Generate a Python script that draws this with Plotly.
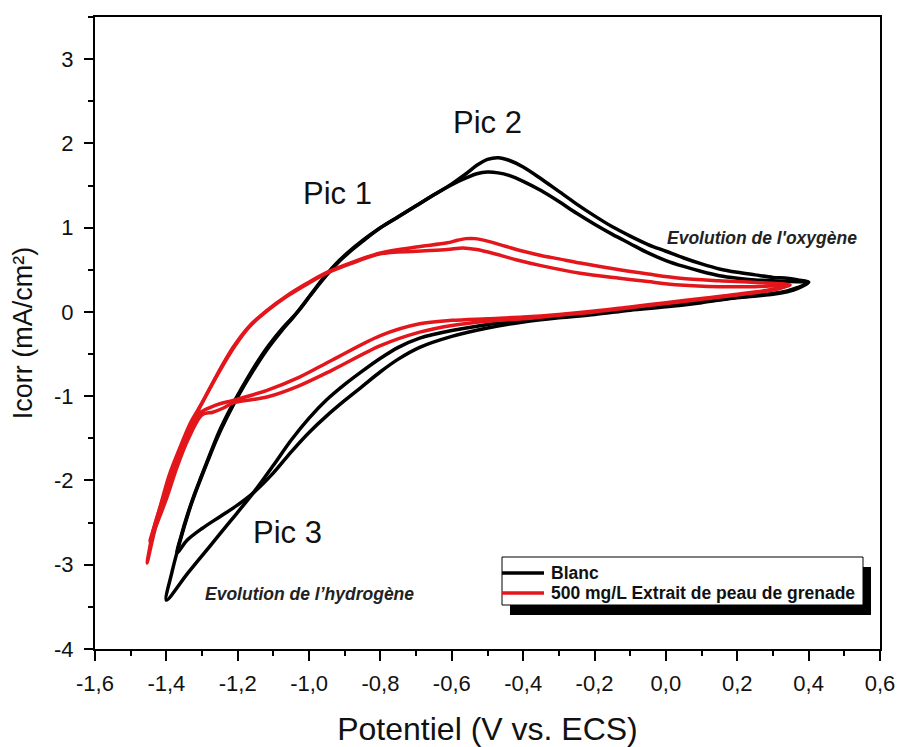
import plotly.graph_objects as go

# ---------------- data: cyclic voltammograms (two cycles per solution) ----------------
# Blank solution, cycle 1 (anodic sweep then cathodic sweep)
blanc_c1_anod_E = [-1.400, -1.385, -1.370, -1.350, -1.330, -1.310, -1.285, -1.260, -1.230, -1.195,
                   -1.160, -1.120, -1.080, -1.040, -1.000, -0.960, -0.925, -0.890, -0.850, -0.800,
                   -0.750, -0.700, -0.650, -0.600, -0.560, -0.530, -0.500, -0.470, -0.440, -0.400,
                   -0.350, -0.300, -0.250, -0.200, -0.150, -0.100, -0.050, 0.000, 0.050, 0.100,
                   0.150, 0.200, 0.250, 0.300, 0.340, 0.370, 0.400]
blanc_c1_anod_I = [-3.42, -3.10, -2.85, -2.55, -2.28, -2.05, -1.78, -1.52, -1.25, -0.97,
                   -0.72, -0.46, -0.24, -0.04, 0.18, 0.40, 0.57, 0.71, 0.85, 1.00,
                   1.13, 1.26, 1.39, 1.52, 1.64, 1.74, 1.81, 1.83, 1.80, 1.72,
                   1.58, 1.43, 1.28, 1.14, 1.01, 0.90, 0.80, 0.72, 0.64, 0.57,
                   0.51, 0.47, 0.44, 0.41, 0.40, 0.38, 0.355]
blanc_c1_cath_E = [0.370, 0.340, 0.300, 0.200, 0.100, 0.000, -0.100, -0.200, -0.300, -0.400,
                   -0.500, -0.600, -0.690, -0.750, -0.800, -0.850, -0.900, -0.950, -1.000, -1.050,
                   -1.100, -1.157, -1.220, -1.280, -1.340, -1.400]
blanc_c1_cath_I = [0.28, 0.24, 0.21, 0.17, 0.12, 0.07, 0.03, -0.01, -0.05, -0.09,
                   -0.15, -0.22, -0.31, -0.42, -0.55, -0.70, -0.86, -1.04, -1.26, -1.52,
                   -1.82, -2.15, -2.48, -2.79, -3.10, -3.42]

# Blank solution, cycle 2
blanc_c2_anod_E = [-1.370, -1.358, -1.342, -1.322, -1.302, -1.277, -1.252, -1.222, -1.187, -1.152,
                   -1.112, -1.072, -1.032, -0.992, -0.952, -0.918, -0.884, -0.846, -0.800, -0.750,
                   -0.700, -0.650, -0.600, -0.560, -0.530, -0.500, -0.470, -0.440, -0.400, -0.350,
                   -0.300, -0.250, -0.200, -0.150, -0.100, -0.050, 0.000, 0.050, 0.100, 0.150,
                   0.200, 0.250, 0.300, 0.350, 0.400]
blanc_c2_anod_I = [-2.86, -2.65, -2.42, -2.17, -1.95, -1.68, -1.42, -1.16, -0.89, -0.64,
                   -0.39, -0.18, 0.00, 0.22, 0.43, 0.59, 0.72, 0.85, 1.00, 1.13,
                   1.26, 1.39, 1.51, 1.59, 1.64, 1.66, 1.65, 1.62, 1.55, 1.44,
                   1.31, 1.17, 1.04, 0.92, 0.81, 0.70, 0.61, 0.54, 0.48, 0.43,
                   0.40, 0.38, 0.37, 0.36, 0.35]
blanc_c2_cath_E = [0.370, 0.340, 0.300, 0.200, 0.100, 0.000, -0.100, -0.200, -0.300, -0.400,
                   -0.500, -0.600, -0.690, -0.750, -0.800, -0.850, -0.900, -0.950, -1.000, -1.050,
                   -1.100, -1.157, -1.200, -1.250, -1.300, -1.342, -1.370]
blanc_c2_cath_I = [0.29, 0.25, 0.22, 0.17, 0.11, 0.06, 0.02, -0.03, -0.07, -0.12,
                   -0.19, -0.29, -0.42, -0.56, -0.71, -0.88, -1.05, -1.23, -1.43, -1.66,
                   -1.91, -2.15, -2.29, -2.43, -2.57, -2.71, -2.86]

# 500 mg/L pomegranate peel extract, cycle 1
grenade_c1_anod_E = [-1.454, -1.430, -1.400, -1.370, -1.340, -1.306, -1.260, -1.213, -1.170, -1.118,
                     -1.060, -1.006, -0.950, -0.885, -0.800, -0.700, -0.613, -0.585, -0.560, -0.535,
                     -0.500, -0.450, -0.400, -0.350, -0.300, -0.240, -0.130, -0.050, 0.040, 0.150,
                     0.250, 0.348]
grenade_c1_anod_I = [-2.98, -2.55, -2.15, -1.76, -1.42, -1.13, -0.76, -0.42, -0.18, 0.02,
                     0.20, 0.34, 0.47, 0.58, 0.70, 0.77, 0.82, 0.85, 0.87, 0.87,
                     0.84, 0.78, 0.72, 0.67, 0.63, 0.58, 0.50, 0.45, 0.40, 0.37,
                     0.35, 0.32]
grenade_c1_cath_E = [0.300, 0.200, 0.100, 0.000, -0.100, -0.200, -0.300, -0.400, -0.500, -0.600,
                     -0.690, -0.800, -0.935, -1.030, -1.118, -1.213, -1.250, -1.275, -1.306, -1.345,
                     -1.380, -1.410, -1.437, -1.454]
grenade_c1_cath_I = [0.27, 0.21, 0.16, 0.11, 0.06, 0.01, -0.03, -0.06, -0.08, -0.10,
                     -0.14, -0.28, -0.57, -0.78, -0.93, -1.05, -1.09, -1.13, -1.20, -1.50,
                     -1.85, -2.22, -2.60, -2.98]

# 500 mg/L pomegranate peel extract, cycle 2
grenade_c2_anod_E = [-1.446, -1.420, -1.393, -1.363, -1.333, -1.300, -1.256, -1.209, -1.166, -1.115,
                     -1.060, -1.006, -0.950, -0.885, -0.800, -0.700, -0.613, -0.569, -0.530, -0.480,
                     -0.420, -0.350, -0.240, -0.130, -0.050, 0.040, 0.150, 0.250, 0.340]
grenade_c2_anod_I = [-2.72, -2.35, -1.95, -1.62, -1.32, -1.08, -0.74, -0.41, -0.17, 0.02,
                     0.19, 0.33, 0.46, 0.57, 0.69, 0.72, 0.74, 0.76, 0.74, 0.69,
                     0.62, 0.55, 0.46, 0.40, 0.36, 0.32, 0.30, 0.30, 0.31]
grenade_c2_cath_E = [0.300, 0.200, 0.100, 0.000, -0.100, -0.200, -0.300, -0.400, -0.500, -0.600,
                     -0.690, -0.800, -0.935, -1.030, -1.118, -1.213, -1.240, -1.270, -1.300, -1.340,
                     -1.370, -1.400, -1.430, -1.446]
grenade_c2_cath_I = [0.26, 0.20, 0.15, 0.10, 0.05, 0.00, -0.04, -0.08, -0.11, -0.16,
                     -0.24, -0.40, -0.69, -0.88, -1.01, -1.08, -1.14, -1.19, -1.22, -1.52,
                     -1.84, -2.22, -2.55, -2.72]

# axis ticks
x_tick_vals = [-1.6, -1.4, -1.2, -1.0, -0.8, -0.6, -0.4, -0.2, 0.0, 0.2, 0.4, 0.6]
x_tick_text = ["-1,6", "-1,4", "-1,2", "-1,0", "-0,8", "-0,6", "-0,4", "-0,2", "0,0", "0,2", "0,4", "0,6"]
y_tick_vals = [-4, -3, -2, -1, 0, 1, 2, 3]
y_tick_text = ["-4", "-3", "-2", "-1", "0", "1", "2", "3"]

series_names = ["Blanc", "500 mg/L Extrait de peau de grenade"]
series_colors = ["#000000", "#e3161c"]

FONT = "Liberation Sans, Arial, sans-serif"

# plot-area geometry in pixels (for the hand-drawn legend box)
W, H = 901, 747
ML, MR, MT, MB = 95, 21, 17, 98


def px_x(px):
    return (px - ML) / (W - ML - MR)


def px_y(py):
    return (H - MB - py) / (H - MT - MB)


fig = go.Figure()

loops = [
    (blanc_c1_anod_E + blanc_c1_cath_E, blanc_c1_anod_I + blanc_c1_cath_I, 0),
    (blanc_c2_anod_E + blanc_c2_cath_E, blanc_c2_anod_I + blanc_c2_cath_I, 0),
    (grenade_c1_anod_E + grenade_c1_cath_E, grenade_c1_anod_I + grenade_c1_cath_I, 1),
    (grenade_c2_anod_E + grenade_c2_cath_E, grenade_c2_anod_I + grenade_c2_cath_I, 1),
]
for E, I, k in loops:
    fig.add_trace(go.Scatter(
        x=E, y=I, mode="lines", name=series_names[k], showlegend=False,
        line=dict(color=series_colors[k], width=3.5, shape="spline", smoothing=0.9),
    ))

# text labels on the curves
label_font = dict(family=FONT, size=31, color="#111111")
fig.add_annotation(x=-0.92, y=1.41, text="Pic 1", showarrow=False, font=label_font)
fig.add_annotation(x=-0.50, y=2.25, text="Pic 2", showarrow=False, font=label_font)
fig.add_annotation(x=-1.06, y=-2.62, text="Pic 3", showarrow=False, font=label_font)
evo_font = dict(family=FONT, size=17.5, color="#222222")
fig.add_annotation(x=0.27, y=0.88, text="<b><i>Evolution de l'oxygène</i></b>",
                   showarrow=False, font=evo_font)
fig.add_annotation(x=-1.0, y=-3.35, text="<b><i>Evolution de l’hydrogène</i></b>",
                   showarrow=False, font=evo_font)

# legend box with drop shadow
fig.add_shape(type="rect", xref="paper", yref="paper",
              x0=px_x(510), x1=px_x(871), y0=px_y(615), y1=px_y(567),
              fillcolor="black", line=dict(width=0))
fig.add_shape(type="rect", xref="paper", yref="paper",
              x0=px_x(502), x1=px_x(863), y0=px_y(605), y1=px_y(557),
              fillcolor="white", line=dict(color="black", width=1))
for k, py in enumerate([573, 593]):
    fig.add_shape(type="line", xref="paper", yref="paper",
                  x0=px_x(502), x1=px_x(544), y0=px_y(py), y1=px_y(py),
                  line=dict(color=series_colors[k], width=3.5))
    fig.add_annotation(xref="paper", yref="paper", x=px_x(549), y=px_y(py),
                       xanchor="left", yanchor="middle", showarrow=False,
                       text="<b>" + series_names[k] + "</b>",
                       font=dict(family=FONT, size=17.5, color="#111111"))

axis_common = dict(
    showline=True, linecolor="black", linewidth=2, mirror=True,
    ticks="outside", tickcolor="black", tickwidth=2,
    showgrid=False, zeroline=False, automargin=False,
    tickfont=dict(family=FONT, size=22, color="#111111"),
)

fig.update_xaxes(
    range=[-1.6, 0.6], tickmode="array", tickvals=x_tick_vals, ticktext=x_tick_text,
    ticklen=10, ticklabelstandoff=4,
    minor=dict(tickmode="linear", tick0=-1.6, dtick=0.1, ticks="outside", ticklen=5,
               tickwidth=2, tickcolor="black", showgrid=False),
    title=dict(text="Potentiel (V vs. ECS)", font=dict(family=FONT, size=32, color="#111111"),
               standoff=22),
    **axis_common,
)
fig.update_yaxes(
    range=[-4, 3.5], tickmode="array", tickvals=y_tick_vals, ticktext=y_tick_text,
    ticklen=9, ticklabelstandoff=6,
    minor=dict(tickmode="linear", tick0=-4, dtick=0.5, ticks="outside", ticklen=5,
               tickwidth=2, tickcolor="black", showgrid=False),
    title=dict(text="Icorr (mA/cm²)", font=dict(family=FONT, size=27, color="#111111"),
               standoff=14),
    **axis_common,
)

fig.update_layout(
    width=W, height=H, autosize=False,
    margin=dict(l=ML, r=MR, t=MT, b=MB, pad=0),
    paper_bgcolor="white", plot_bgcolor="white",
    showlegend=False,
)

fig.write_html("out.html")
